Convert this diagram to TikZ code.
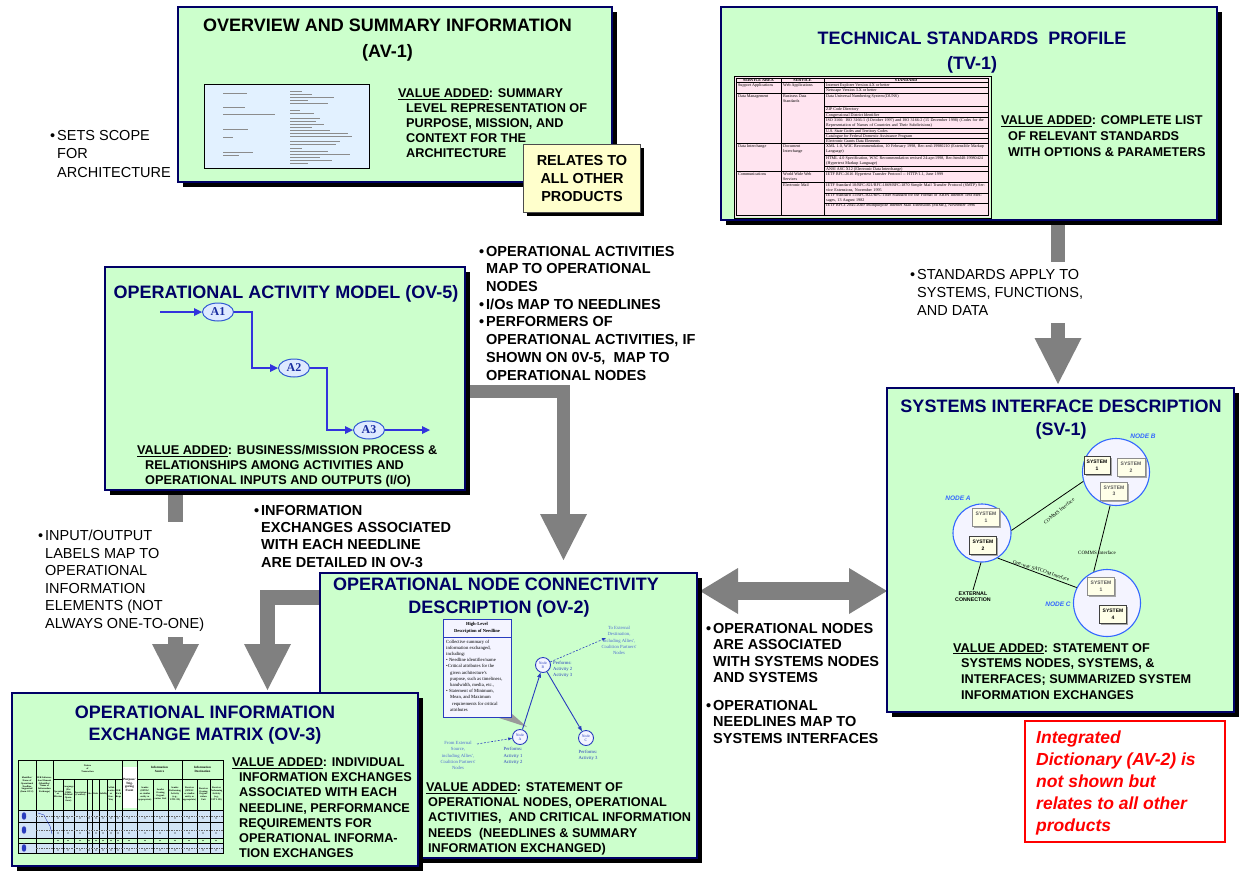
\documentclass[tikz,border=0pt]{standalone}
\usepackage{fontspec}
\setmainfont{Liberation Sans}
\newfontfamily\serifface{Liberation Serif}
\usetikzlibrary{arrows.meta,shapes.geometric}
\pgfdeclarelayer{background}
\pgfsetlayers{background,main}

\definecolor{panelgreen}{RGB}{204,255,204}
\definecolor{navy}{RGB}{0,0,102}
\definecolor{arrowgray}{RGB}{128,128,128}
\definecolor{notepaper}{RGB}{255,255,204}
\definecolor{flowblue}{RGB}{51,51,221}
\definecolor{bubblefill}{RGB}{222,234,255}
\definecolor{bubbleline}{RGB}{50,90,210}
\definecolor{bubbletext}{RGB}{25,45,160}
\definecolor{docblue}{RGB}{226,241,255}
\definecolor{tablepink}{RGB}{255,228,240}
\definecolor{nodeblue}{RGB}{40,60,190}
\definecolor{extblue}{RGB}{80,110,210}
\definecolor{netblue}{RGB}{51,102,255}
\definecolor{lav}{RGB}{244,244,255}
\definecolor{sysyellow}{RGB}{255,255,232}
\definecolor{rowblue}{RGB}{210,228,246}

\newcommand{\valueadded}{\underline{VALUE ADDED}:}
\newcommand{\notebullet}{\llap{\textbullet\hspace{2pt}}}

\begin{document}
\begin{tikzpicture}[x=1pt,y=-1pt,
  panel/.style={draw=navy, line width=1.8pt, fill=panelgreen, anchor=north west,
    inner sep=0pt, outer sep=0pt,
    preaction={draw=none, fill=black, transform canvas={shift={(5pt,-5pt)}}}},
  ptitle/.style={font=\fontsize{18}{#1}\selectfont\bfseries, text=navy, align=center, inner sep=0pt},
  va/.style={font=\fontsize{12.7}{#1}\selectfont\bfseries, align=left, anchor=north west, inner sep=0pt},
  note/.style={font=\fontsize{14.5}{#1}\selectfont, align=left, anchor=north west, inner sep=0pt},
  boldnote/.style={font=\fontsize{14.5}{#1}\selectfont\bfseries, align=left, anchor=north west, inner sep=0pt},
  gline/.style={draw=arrowgray, line width=#1, line cap=butt, line join=miter},
  gtip/.style={-{Triangle[width=47pt,length=46pt,line width=0pt]}},
  gboth/.style={{Triangle[width=46pt,length=38pt,line width=0pt]}-{Triangle[width=46pt,length=38pt,line width=0pt]}},
  docline/.style={draw=black!45, line width=0.5pt},
  tabtext/.style={font=\serifface\fontsize{4.1}{5}\selectfont, anchor=north west, inner sep=0pt, align=left},
  tabrule/.style={draw=black, line width=0.5pt},
  flow/.style={draw=flowblue, line width=2.6pt, -{Triangle[width=8pt,length=8pt,line width=0pt]}},
  actnode/.style={ellipse, draw=bubbleline, line width=1pt, fill=bubblefill, minimum width=31pt,
    minimum height=18pt, inner sep=0pt, font=\serifface\bfseries\fontsize{12}{12}\selectfont, text=bubbletext},
  onode/.style={circle, draw=nodeblue, line width=0.9pt, fill=lav, minimum size=15pt, inner sep=0pt,
    font=\serifface\fontsize{3.8}{4}\selectfont, text=nodeblue, align=center},
  needle/.style={draw=nodeblue, line width=0.9pt, -{Triangle[width=4pt,length=5pt,line width=0pt]}},
  extlink/.style={draw=nodeblue, line width=0.6pt, dash pattern=on 2pt off 1.5pt, -{Triangle[width=3pt,length=4pt,line width=0pt]}},
  smalltext/.style={font=\serifface\fontsize{4.7}{6.2}\selectfont, text=extblue, align=center, inner sep=0pt},
  netnode/.style={circle, draw=netblue, line width=1.1pt, fill=lav, inner sep=0pt},
  sysbox/.style={draw=black!45, line width=0.7pt, fill=sysyellow, minimum width=27pt, minimum height=18pt,
    inner sep=0pt, align=center, font=\fontsize{5}{6.5}\selectfont\bfseries, text=black!65,
    preaction={draw=none, fill=black!35, transform canvas={shift={(1.5pt,-1.5pt)}}}},
  keysys/.style={sysbox, draw=black!75, text=black},
  link/.style={draw=black, line width=0.8pt},
  linklabel/.style={font=\serifface\fontsize{5}{5}\selectfont, inner sep=0pt},
  nodename/.style={font=\fontsize{6.5}{7}\selectfont\bfseries\itshape, text=netblue, inner sep=0pt},
  mxhead/.style={font=\serifface\bfseries\fontsize{2.4}{2.8}\selectfont, align=center, inner sep=0pt}
]
\useasboundingbox (0,0) rectangle (1239,871);

% ---------- panels ----------
\node[panel, minimum width=434pt, minimum height=175pt] (av1) at (178,7) {};
\node[panel, minimum width=496pt, minimum height=213pt] (tv1) at (721,7) {};
\node[panel, minimum width=360pt, minimum height=223pt] (ov5) at (105,267) {};
\node[panel, minimum width=347pt, minimum height=324pt] (sv1) at (887,388) {};

% ---------- block arrows between the views ----------
\coordinate (tvstub) at (1058,262);
\coordinate (tvtail) at (1058,323);
\coordinate (tvtip) at (1058,384);
\coordinate (ovbend) at (563.5,391.5);
\coordinate (ovtip) at (563.5,560);
\coordinate (iostub) at (175.5,522);
\coordinate (iotail) at (175.5,637);
\coordinate (iotip) at (175.5,690);
\coordinate (exbend) at (267.5,597.5);
\coordinate (extip) at (267.5,690);
\coordinate (dleft) at (700,591);
\coordinate (dright) at (887,591);
\coordinate (ov2corner) at (320,573);

\begin{pgfonlayer}{background}
  \fill[white] (0,0) rectangle (1239,871);
  \draw[gline=14pt] (tv1.south -| tvstub) -- (tvstub);
  \draw[gline=14pt, gtip] (tvtail) -- (tvtip);
  \draw[gline=13pt, gtip] (ov5.east |- ovbend) -- (ovbend) -- (ovtip);
  \draw[gline=15pt] (ov5.south -| iostub) -- (iostub);
  \draw[gline=15pt, gtip] (iotail) -- (iotip);
  \draw[gline=15pt, gtip] (ov2corner |- exbend) -- (exbend) -- (extip);
  \draw[gline=18pt, gboth] (dleft) -- (dright);
\end{pgfonlayer}

% ---------- AV-1 ----------
\node[ptitle=26.7, text=black] (av1title) at (387.5,40) {OVERVIEW AND SUMMARY INFORMATION\\(AV-1)};
\node[draw=black, line width=0.8pt, fill=docblue, anchor=north west, minimum width=165pt,
  minimum height=84pt, inner sep=0pt] (av1doc) at (204,84) {};
\foreach \y/\l in {93/24,107/22,114/52,129/25,137/10,152/30,155/16}
  \draw[docline] (223,\y) -- ++(\l,0);
\foreach \y/\l in {91/12,94/22,97/44,100/18,103/38,110/10,113/24,118/30,121/26,124/34,127/22,130/40,
                   133/58,136/62,141/50,144/46,148/12,151/38,154/60,157/30,160/42,163/18}
  \draw[docline] (290,\y) -- ++(\l,0);
\node[va=15] (av1va) at (398,88.5) {\valueadded{} SUMMARY\\\hspace*{8pt}LEVEL REPRESENTATION OF\\
  \hspace*{8pt}PURPOSE, MISSION, AND\\\hspace*{8pt}CONTEXT FOR THE\\\hspace*{8pt}ARCHITECTURE};
\node[draw=black!70, line width=1pt, fill=notepaper, anchor=north west, minimum width=117pt,
  minimum height=68pt, inner sep=0pt, align=center, font=\fontsize{14.5}{18}\selectfont\bfseries,
  preaction={draw=none, fill=black, transform canvas={shift={(3pt,-3pt)}}}]
  (relates) at (523,144) {RELATES TO\\ALL OTHER\\PRODUCTS};

% ---------- TV-1 ----------
\node[ptitle=25] (tv1title) at (972,53) {TECHNICAL STANDARDS\ \ PROFILE\\(TV-1)};
\fill[tablepink] (735,77) rectangle (990,217);
\draw[black, line width=0.9pt] (734,76) rectangle (991,218);
\draw[tabrule] (736.5,78.5) rectangle (988.5,215.5);
\draw[tabrule] (781,78.5) -- (781,215.5);
\draw[tabrule] (824,78.5) -- (824,215.5);
\foreach \y in {82,93.5,143.5,171} \draw[tabrule] (736.5,\y) -- (988.5,\y);
\foreach \y in {87.5,106,112,117.5,128,133,138,155,166,193,203} \draw[tabrule] (824,\y) -- (988.5,\y);
\draw[tabrule] (781,182) -- (988.5,182);
\node[tabtext, anchor=center, font=\serifface\bfseries\fontsize{4.1}{5}\selectfont] at (758.5,80) {SERVICE AREA};
\node[tabtext, anchor=center, font=\serifface\bfseries\fontsize{4.1}{5}\selectfont] at (802.5,80) {SERVICE};
\node[tabtext, anchor=center, font=\serifface\bfseries\fontsize{4.1}{5}\selectfont] at (906,80) {STANDARD};
\node[tabtext] at (738,83.3) {Support Applications};
\node[tabtext] at (783,83.3) {Web Applications};
\node[tabtext] at (826,83.3) {Internet Explorer Version 4.X or better};
\node[tabtext] at (826,88.6) {Netscape Version 3.X or better};
\node[tabtext] at (738,94.6) {Data Management};
\node[tabtext] at (783,94.6) {Business Data\\Standards};
\node[tabtext] at (826,94.6) {Data Universal Numbering System (DUNS)};
\node[tabtext] at (826,107.1) {ZIP Code Directory};
\node[tabtext] at (826,113.1) {Congressional District Identifier};
\node[tabtext, text width=162pt] at (826,118.6) {ISO 3166: ISO 3166-1 (1October 1997) and ISO 3166-2 (15 December 1998) (Codes for the Representation of Names of Countries and Their Subdivisions)};
\node[tabtext] at (826,129.1) {U.S. State Codes and Territory Codes};
\node[tabtext] at (826,134.1) {Catalogue for Federal Domestic Assistance Program};
\node[tabtext] at (826,139.1) {Electronic Grants Data Elements};
\node[tabtext] at (738,144.6) {Data Interchange};
\node[tabtext] at (783,144.6) {Document\\Interchange};
\node[tabtext, text width=162pt] at (826,144.6) {XML 1.0, W3C Recommendation, 10 February 1998, Rec-xml-19980210 (Extensible Markup Language)};
\node[tabtext, text width=162pt] at (826,156.1) {HTML 4.0 Specification, W3C Recommendation revised 24-apr-1998, Rec-html40-19980424 (Hypertext Markup Language)};
\node[tabtext] at (826,167.1) {ANSI ASC X12 (Electronic Data Interchange)};
\node[tabtext] at (738,172.1) {Communications};
\node[tabtext] at (783,172.1) {World Wide Web\\Services};
\node[tabtext, text width=162pt] at (826,172.1) {IETF RFC-2616 Hypertext Transfer Protocol -- HTTP/1.1, June 1999};
\node[tabtext] at (783,183.1) {Electronic Mail};
\node[tabtext, text width=162pt] at (826,183.1) {IETF Standard 10/RFC-821/RFC-1869/RFC-1870 Simple Mail Transfer Protocol (SMTP) Service Extensions, November 1995};
\node[tabtext, text width=162pt] at (826,193.6) {IETF Standard 11/RFC-822/RFC-1049 Standard for the Format of ARPA Internet Text Messages, 13 August 1982};
\node[tabtext, text width=162pt] at (826,203.6) {IETF RFCs 2045-2049 Multipurpose Internet Mail Extensions (MIME), November 1996};
\node[va=15.8] (tv1va) at (1001,115.5) {\valueadded{} COMPLETE LIST\\\hspace*{7pt}OF RELEVANT STANDARDS\\\hspace*{7pt}WITH OPTIONS \& PARAMETERS};

% ---------- OV-5 ----------
\node[ptitle=22] (ov5title) at (286,294) {OPERATIONAL ACTIVITY MODEL (OV-5)};
\node[actnode] (a1) at (218,312) {A1};
\node[actnode] (a2) at (294,368) {A2};
\node[actnode] (a3) at (369,430) {A3};
\coordinate (a0) at (160,312);
\coordinate (b1) at (252,312);
\coordinate (b2) at (327,368);
\coordinate (a4) at (430,430);
\draw[flow] (a0) -- (a1);
\draw[flow] (a1.east) -- (b1) |- (a2.west);
\draw[flow] (a2.east) -- (b2) |- (a3.west);
\draw[flow] (a3.east) -- (a4);
\node[va=15] (ov5va) at (137,445.5) {\valueadded{} BUSINESS/MISSION PROCESS \&\\\hspace*{8pt}RELATIONSHIPS AMONG ACTIVITIES AND\\\hspace*{8pt}OPERATIONAL INPUTS AND OUTPUTS (I/O)};

% ---------- OV-2 ----------
\node[panel, minimum width=377pt, minimum height=285pt] (ov2) at (320,573) {};
\node[ptitle=23] (ov2title) at (496,597.5) {OPERATIONAL NODE CONNECTIVITY\\\hspace*{6pt}DESCRIPTION (OV-2)};
\fill[arrowgray!80] (496,717) -- (511,713) -- (527,727) -- cycle;
\node[draw=nodeblue, line width=0.9pt, fill=lav, anchor=north west, minimum width=68pt,
  minimum height=98pt, inner sep=0pt] (hlbox) at (443,619) {};
\draw[nodeblue, line width=0.6pt] (hlbox.west |- 0,637) -- (hlbox.east |- 0,637);
\node[font=\serifface\bfseries\fontsize{4.6}{7.6}\selectfont, align=center, inner sep=0pt] (hlhead) at (477,628) {High-Level\\Description of Needline};
\node[font=\serifface\fontsize{4.7}{6.2}\selectfont, align=left, anchor=north west, inner sep=0pt] (hlbody) at (446,639.5)
  {Collective summary of\\information exchanged,\\including:\\\textbullet{} Needline identifier/name\\\textbullet Critical attributes for the\\
   \hspace*{4pt}given architecture's\\\hspace*{4pt}purpose, such as timeliness,\\\hspace*{4pt}bandwidth, media, etc.,\\
   \textbullet{} Statement of Minimum,\\\hspace*{4pt}Mean, and Maximum\\\hspace*{6pt}requirements for critical\\\hspace*{4pt}attributes};
\node[onode] (na) at (520,737) {Node\\A};
\node[onode] (nb) at (543,665) {Node\\B};
\node[onode] (nc) at (586,738) {Node\\C};
\draw[needle] (na) -- (nb);
\draw[needle] (nb) -- (nc);
\node[smalltext] (fromtxt) at (458,755.5) {From External\\Source,\\including Allies',\\Coalition Partners'\\Nodes};
\coordinate (fromext) at (477,744);
\draw[extlink] (fromext) -- (na);
\node[smalltext] (totxt) at (619,640.5) {To External\\Destination,\\including Allies',\\Coalition Partners'\\Nodes};
\coordinate (toext) at (606,638);
\draw[extlink] (nb) -- (toext);
\node[smalltext, align=left, anchor=north west, text=nodeblue] (perfb) at (553,661) {Performs:\\Activity 2\\Activity 3};
\node[smalltext, text=nodeblue] (perfa) at (513,756) {Performs:\\Activity 1\\Activity 2};
\node[smalltext, text=nodeblue] (perfc) at (588,755) {Performs:\\Activity 3};
\node[va=15.2] (ov2va) at (426,782.5) {\valueadded{} STATEMENT OF\\\hspace*{2pt}OPERATIONAL NODES, OPERATIONAL\\
  \hspace*{2pt}ACTIVITIES,\ \ AND CRITICAL INFORMATION\\\hspace*{2pt}NEEDS\ \ (NEEDLINES \& SUMMARY\\\hspace*{2pt}INFORMATION EXCHANGED)};

% ---------- OV-3 ----------
\node[panel, minimum width=406pt, minimum height=173pt] (ov3) at (12,693) {};
\node[ptitle=22] (ov3title) at (205,725) {OPERATIONAL INFORMATION\\EXCHANGE MATRIX (OV-3)};
\fill[rowblue] (18,810) rectangle (223,838);
\fill[rowblue] (18,843) rectangle (223,853);
\fill[white] (122,767) rectangle (137,808);
\draw[tabrule, line width=0.8pt] (18,760) rectangle (223,853);
\foreach \x in {36,53,122,137,182} \draw[tabrule] (\x,760) -- (\x,853);
\foreach \x in {63,74,87,92,99,107,115,153,168,197,210} \draw[tabrule] (\x,779) -- (\x,853);
\draw[tabrule] (53,779) -- (122,779);
\draw[tabrule] (137,779) -- (223,779);
\foreach \y in {810,822,838,843} \draw[tabrule] (18,\y) -- (223,\y);
\foreach \y in {816,830,848} \draw[black!60, line width=0.3pt, dash pattern=on 1.5pt off 1pt] (36,\y) -- (223,\y);
\foreach \y in {816,830,848} \fill[nodeblue] (24,\y) ellipse (2.6 and 4.2);
\foreach \y in {816,830,848} \draw[white, line width=0.3pt] (24,\y) ellipse (2.6 and 4.2);
\foreach \x in {58,68,80,89,96,103,111,118,129,145,160,175,189,203,216}
  \foreach \y in {818,833,840.5,850} \fill[black] (\x,\y) circle (0.55);
\draw[nodeblue, line width=0.4pt] (38,813) -- (44,815) -- (47,821) -- (50,826) -- (52,834);
\node[mxhead] at (27,785) [text width=17pt] {Identifier/ Name of Operational Needline Supported (from OV-2)};
\node[mxhead] at (44.5,785) [text width=16pt] {IER Information Element (Identifier/ Name of Information Exchange)};
\node[mxhead] at (87.5,769) [text width=40pt] {Nature\\of\\Transaction};
\node[mxhead] at (58,794) [text width=9pt] {Operation or Mission};
\node[mxhead] at (68.5,794) [text width=10pt] {Language (Per OMB-Related Operations)};
\node[mxhead] at (80.5,794) [text width=12pt] {Description (Content)};
\node[mxhead] at (89.5,794) [text width=5pt] {Size};
\node[mxhead] at (95.5,794) [text width=6pt] {Units};
\node[mxhead] at (103,794) [text width=7pt] {Validity};
\node[mxhead] at (111,794) [text width=7pt] {Collab\-orative or One-Way};
\node[mxhead] at (118.5,794) [text width=6pt] {IER Exch Reqs};
\node[mxhead, font=\serifface\bfseries\fontsize{3.2}{3.8}\selectfont] at (129.5,785) [text width=14pt] {Purpose/ Triggering Event};
\node[mxhead, font=\serifface\bfseries\fontsize{3.2}{3.8}\selectfont] at (159.5,769) [text width=40pt] {Information\\Source};
\node[mxhead] at (145,794) [text width=15pt] {Sender (OPFAC or similar entity as appropriate)};
\node[mxhead] at (160.5,794) [text width=14pt] {Sender Owning Organi\-zation Unit};
\node[mxhead] at (175,794) [text width=13pt] {Sender Performing Activity (e.g., UJTL ID)};
\node[mxhead, font=\serifface\bfseries\fontsize{3.2}{3.8}\selectfont] at (202.5,769) [text width=38pt] {Information\\Destination};
\node[mxhead] at (189.5,794) [text width=14pt] {Receiver (OPFAC or similar entity as appropriate)};
\node[mxhead] at (203.5,794) [text width=12pt] {Receiver Owning Organi\-zation Unit};
\node[mxhead] at (216.5,794) [text width=12pt] {Receiver Performing Activity (e.g., UJTL ID)};
\node[va=15.2] (ov3va) at (232,757.5) {\valueadded{} INDIVIDUAL\\\hspace*{7pt}INFORMATION EXCHANGES\\\hspace*{7pt}ASSOCIATED WITH EACH\\
  \hspace*{7pt}NEEDLINE, PERFORMANCE\\\hspace*{7pt}REQUIREMENTS FOR\\\hspace*{7pt}OPERATIONAL INFORMA-\\\hspace*{7pt}TION EXCHANGES};

% ---------- SV-1 ----------
\node[ptitle=23] (sv1title) at (1061,420) {SYSTEMS INTERFACE DESCRIPTION\\(SV-1)};
\node[nodename] (labA) at (958,498) {NODE A};
\node[nodename] (labB) at (1143,436) {NODE B};
\node[nodename] (labC) at (1058,604) {NODE C};
\node[netnode, minimum size=58pt] (nodea) at (982,533) {};
\node[netnode, minimum size=67pt] (nodeb) at (1116,472) {};
\node[netnode, minimum size=67pt] (nodec) at (1107,603) {};
\node[sysbox] (a1s) at (986,517) {SYSTEM\\1};
\node[keysys] (a2s) at (983,545) {SYSTEM\\2};
\node[keysys, minimum width=26pt] (b1s) at (1097,465) {SYSTEM\\1};
\node[sysbox, minimum width=28pt] (b2s) at (1131,467) {SYSTEM\\2};
\node[sysbox] (b3s) at (1114,491) {SYSTEM\\3};
\node[sysbox] (c1s) at (1101,586) {SYSTEM\\1};
\node[keysys] (c4s) at (1113,614) {SYSTEM\\4};
\draw[link] (nodea.5) -- (nodeb.196);
\draw[link] (nodeb.260) -- (nodec.113);
\draw[link] (nodea.302) -- (nodec.153);
\coordinate (extend) at (973,590);
\draw[link] (nodea.268) -- (extend);
\node[font=\fontsize{5.3}{5.5}\selectfont\bfseries, align=center, inner sep=0pt, anchor=north] (extlabel) at (973,592) {EXTERNAL\\CONNECTION};
\node[linklabel, rotate=39] (abl) at (1059,511) {COMMS Interface};
\node[linklabel] (bcl) at (1097,553) {COMMS Interface};
\node[linklabel, rotate=-18] (acl) at (1041,571) {One-way SATCOM Interface};
\node[va=15.7] (sv1va) at (953,643) {\valueadded{} STATEMENT OF\\\hspace*{8pt}SYSTEMS NODES, SYSTEMS, \&\\
  \hspace*{8pt}INTERFACES; SUMMARIZED SYSTEM\\\hspace*{8pt}INFORMATION EXCHANGES};

% ---------- AV-2 remark ----------
\node[draw=red, line width=2.4pt, fill=white, anchor=north west, minimum width=200pt,
  minimum height=121pt, inner sep=0pt] (dict) at (1024,720) {};
\node[font=\fontsize{17.5}{21.8}\selectfont\bfseries\itshape, text=red, align=left, anchor=north west,
  inner sep=0pt] (dicttext) at (1036,731) {Integrated\\Dictionary (AV-2) is\\not shown but\\relates to all other\\products};

% ---------- notes between the views ----------
\node[note=18.5] (scope) at (57,129.8) {\notebullet SETS SCOPE\\FOR\\ARCHITECTURE};
\node[boldnote=17.7] (mapnote) at (486,245.8) {\notebullet OPERATIONAL ACTIVITIES\\MAP TO OPERATIONAL\\NODES\\
  \notebullet I/Os MAP TO NEEDLINES\\\notebullet PERFORMERS OF\\OPERATIONAL ACTIVITIES, IF\\SHOWN ON 0V-5,\ \ MAP TO\\OPERATIONAL NODES};
\node[note=18] (stdnote) at (917,268.8) {\notebullet STANDARDS APPLY TO\\SYSTEMS, FUNCTIONS,\\AND DATA};
\node[boldnote=17.3] (ienote) at (261,504.8) {\notebullet INFORMATION\\EXCHANGES ASSOCIATED\\WITH EACH NEEDLINE\\ARE DETAILED IN OV-3};
\node[note=17.6] (ionote) at (45,529.8) {\notebullet INPUT/OUTPUT\\LABELS MAP TO\\OPERATIONAL\\INFORMATION\\ELEMENTS (NOT\\ALWAYS ONE-TO-ONE)};
\node[boldnote=16.5] (opnote) at (713,622.8) {\notebullet OPERATIONAL NODES\\ARE ASSOCIATED\\WITH SYSTEMS NODES\\AND SYSTEMS};
\node[boldnote=16.5] (nlnote) at (713,699.8) {\notebullet OPERATIONAL\\NEEDLINES MAP TO\\SYSTEMS INTERFACES};
\end{tikzpicture}
\end{document}
